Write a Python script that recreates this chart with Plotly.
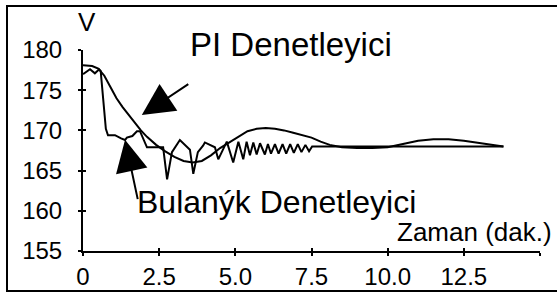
import plotly.graph_objects as go

# ---- data ----
pi_t = [0, 0.3, 0.5, 0.7, 0.9, 1.1, 1.3, 1.5, 1.7, 1.9, 2.1, 2.4, 2.7, 3.0, 3.3, 3.6,
        3.9, 4.2, 4.5, 4.8, 5.1, 5.4, 5.7, 6.0, 6.3, 6.6, 6.9, 7.2, 7.5, 7.8, 8.1,
        8.5, 9.0, 9.5, 10.0, 10.5, 11.0, 11.5, 12.0, 12.5, 13.0, 13.5, 13.8]
pi_v = [178.1, 178.0, 177.7, 176.8, 175.4, 174.0, 172.9, 171.9, 170.9, 170.0, 169.2,
        168.2, 167.4, 166.7, 166.2, 166.0, 166.2, 166.9, 167.8, 168.5, 169.3, 169.9,
        170.2, 170.3, 170.2, 170.0, 169.7, 169.4, 169.1, 168.6, 168.2, 167.9, 167.8,
        167.8, 167.9, 168.3, 168.7, 168.9, 168.9, 168.7, 168.4, 168.1, 168.0]

fuzzy_t = [0, 0.23, 0.39, 0.53, 0.58, 0.64, 0.70, 0.75, 0.82, 1.05, 1.25, 1.38, 1.44,
           1.62, 1.77, 1.87, 2.1, 2.2, 2.63, 2.76, 2.92, 3.18, 3.51, 3.62, 3.77, 3.94,
           4.0, 4.33, 4.44, 4.72, 4.93, 5.10, 5.26, 5.37, 5.48, 5.59, 5.70, 5.81, 5.97,
           6.07, 6.17, 6.30, 6.42, 6.55, 6.67, 6.80, 6.92, 7.05, 7.17, 7.30, 7.42, 7.52,
           8.0, 9.0, 10.0, 11.0, 12.0, 13.0, 13.8]
fuzzy_v = [177.0, 177.6, 177.1, 177.6, 177.4, 175.0, 172.0, 170.2, 169.4, 169.4, 169.0,
           168.8, 169.1, 169.3, 169.9, 169.9, 167.9, 167.9, 167.9, 163.9, 167.3, 168.8,
           167.6, 164.6, 167.3, 168.1, 168.5, 167.9, 166.4, 168.6, 166.0, 168.6, 166.4,
           168.6, 166.9, 168.5, 167.0, 168.4, 167.0, 168.3, 167.1, 168.3, 167.1, 168.3,
           167.1, 168.3, 167.2, 168.3, 167.3, 168.2, 167.4, 168.0, 168.0, 168.0, 168.0,
           168.0, 168.0, 168.0, 168.0]

x_tickvals = [0, 2.5, 5.0, 7.5, 10.0, 12.5, 15.0]
x_ticktext = ["0", "2.5", "5.0", "7.5", "10.0", "12.5", ""]
y_tickvals = [155, 160, 165, 170, 175, 180]
y_ticktext = ["155", "160", "165", "170", "175", "180"]

label_pi = "PI Denetleyici"
label_fuzzy = "Bulanýk Denetleyici"
x_title = "Zaman (dak.)"
y_title = "V"

FONT = "Arial, Liberation Sans, sans-serif"
W, H = 557, 302
L, R, T, B = 83, 17, 50, 46
PW, PH = W - L - R, H - T - B


def px(x):
    return (x - L) / PW


def py(y):
    return (H - B - y) / PH


fig = go.Figure()
fig.add_trace(go.Scatter(x=pi_t, y=pi_v, mode="lines",
                         line=dict(color="black", width=2), showlegend=False))
fig.add_trace(go.Scatter(x=fuzzy_t, y=fuzzy_v, mode="lines",
                         line=dict(color="black", width=2), showlegend=False))

axis_common = dict(showgrid=False, zeroline=False, color="black")
fig.update_layout(
    width=W, height=H,
    margin=dict(l=L, r=R, t=T, b=B, pad=0),
    paper_bgcolor="white", plot_bgcolor="white",
    font=dict(family=FONT, color="black", size=24),
    xaxis=dict(range=[0, 15], tickvals=x_tickvals, ticktext=x_ticktext,
               showline=True, linewidth=2, linecolor="black",
               ticks="outside", ticklen=3, tickwidth=2, tickcolor="black",
               tickfont=dict(size=24), **axis_common),
    yaxis=dict(range=[155, 180], tickvals=y_tickvals, ticktext=y_ticktext,
               showline=True, linewidth=2, linecolor="black",
               ticks="outside", ticklen=3, tickwidth=2, tickcolor="black",
               tickfont=dict(size=24), ticklabelstandoff=11, **axis_common),
    xaxis2=dict(range=[0, 15], tickvals=x_tickvals, overlaying="x",
                showticklabels=False, ticks="inside", ticklen=3, tickwidth=2,
                tickcolor="black", showline=False, **axis_common),
    yaxis2=dict(range=[155, 180], tickvals=y_tickvals, overlaying="y",
                showticklabels=False, ticks="inside", ticklen=3, tickwidth=2,
                tickcolor="black", showline=False, **axis_common),
)
fig.add_trace(go.Scatter(x=[0], y=[155], xaxis="x2", yaxis="y2", mode="markers",
                         marker=dict(opacity=0), showlegend=False, hoverinfo="skip"))

# frame around the figure
fig.add_shape(type="rect", xref="paper", yref="paper",
              x0=px(7), x1=px(562), y0=py(297), y1=py(5),
              line=dict(color="black", width=2), fillcolor="rgba(0,0,0,0)")

# arrows
fig.add_annotation(x=1.93, y=171.9, xref="x", yref="y", text="",
                   showarrow=True, arrowhead=2, arrowsize=3.2, arrowwidth=2,
                   arrowcolor="black", ax=48, ay=-32)
fig.add_annotation(x=1.38, y=168.85, xref="x", yref="y", text="",
                   showarrow=True, arrowhead=2, arrowsize=3.2, arrowwidth=2,
                   arrowcolor="black", ax=13, ay=61)

# texts
fig.add_annotation(x=px(291), y=py(44), xref="paper", yref="paper", text=label_pi,
                   showarrow=False, font=dict(size=33), xanchor="center", yanchor="middle")
fig.add_annotation(x=px(276), y=py(206), xref="paper", yref="paper", text=label_fuzzy,
                   showarrow=False, font=dict(size=32), xanchor="center", yanchor="middle")
fig.add_annotation(x=px(554), y=py(237), xref="paper", yref="paper", text=x_title,
                   showarrow=False, font=dict(size=26), xanchor="right", yanchor="middle")
fig.add_annotation(x=px(87), y=py(21), xref="paper", yref="paper", text=y_title,
                   showarrow=False, font=dict(size=26), xanchor="center", yanchor="middle")

fig.write_html("out.html", config={"displayModeBar": False},
               post_script="document.body.style.margin='0px';")
